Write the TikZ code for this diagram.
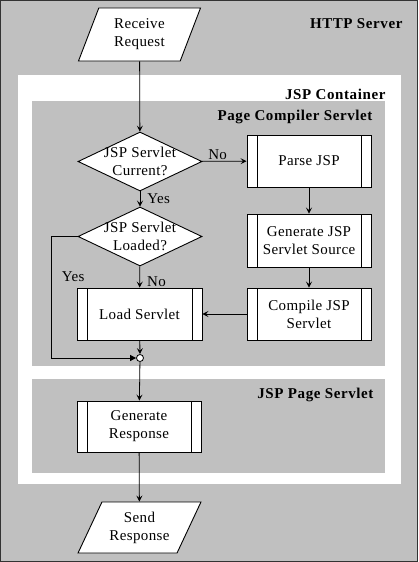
\documentclass[tikz,border=0pt]{standalone}
\usepackage{fontspec}
\setmainfont{Liberation Serif}
\usetikzlibrary{arrows.meta, positioning, shapes.geometric}
\definecolor{servergray}{HTML}{C0C0C0}
\begin{document}
\begin{tikzpicture}[
    x=1pt, y=-1pt,
    every node/.style={font=\fontsize{15}{18}\selectfont\addfontfeatures{LetterSpace=2.5}},
    proc/.style={rectangle, draw, fill=white, line width=0.9pt, align=center, minimum width=124pt, minimum height=52pt, inner sep=2pt,
        path picture={\draw[line width=0.9pt] ([xshift=10pt]path picture bounding box.north west) -- ([xshift=10pt]path picture bounding box.south west)
            ([xshift=-10pt]path picture bounding box.north east) -- ([xshift=-10pt]path picture bounding box.south east);}},
    decision/.style={diamond, draw, fill=white, line width=0.9pt, align=center, aspect=2.1, inner sep=-6pt, minimum width=124pt, minimum height=59pt},
    io/.style={trapezium, draw, fill=white, line width=0.9pt, align=center, trapezium stretches=true, minimum width=123pt, inner sep=1pt},
    title/.style={anchor=east, font=\fontsize{15}{18}\selectfont\bfseries\addfontfeatures{LetterSpace=4}},
    arrow/.style={-{Stealth[length=6pt, width=6pt, inset=2.5pt]}, line width=0.8pt},
    lbl/.style={inner sep=1pt}
]
\useasboundingbox (0,0) rectangle (418,562);
% containers
\filldraw[fill=servergray, draw=black!80, line width=1pt] (0.5,0.5) rectangle (417.5,561.5);
\fill[white] (18,75) rectangle (401,484);
\fill[servergray] (32,101) rectangle (385,366);
\fill[servergray] (32,379) rectangle (385,473);
\node[title] at (406,24) {HTTP Server};
\node[title] at (389,94) {JSP Container};
\node[title] at (376,117) {Page Compiler Servlet};
\node[title] at (377,395) {JSP Page Servlet};
% flow
\node[io, trapezium left angle=68.4, trapezium right angle=111.6, minimum height=53pt] (recv) at (139.5,34.5) {Receive\\Request};
\node[decision] (current) at (140,161.5) {JSP Servlet\\Current?};
\node[decision] (loaded) at (140,236.5) {JSP Servlet\\Loaded?};
\node[proc] (parse) at (309,161) {Parse JSP};
\node[proc, minimum height=53pt] (gensrc) at (309,240.5) {Generate JSP\\Servlet Source};
\node[proc] (compile) at (309,314) {Compile JSP\\Servlet};
\node[proc, minimum width=125pt] (load) at (139.5,314) {Load Servlet};
\node[circle, draw, fill=white, line width=0.8pt, inner sep=0pt, minimum size=7pt] (join) at (140,358) {};
\node[proc, minimum height=51pt] (respond) at (139,426.5) {Generate\\Response};
\node[io, trapezium left angle=59.5, trapezium right angle=120.5, minimum height=51pt] (send) at (139.5,527.5) {Send\\Response};
\draw[arrow] (recv) -- (current);
\draw[arrow] (current) -- node[lbl, pos=0.35, above] {No} (parse);
\draw[arrow] (current) -- node[lbl, right=6pt] {Yes} (loaded);
\draw[arrow] (parse) -- (gensrc);
\draw[arrow] (gensrc) -- (compile);
\draw[arrow] (compile) -- (load);
\draw[arrow] (loaded) -- node[lbl, pos=0.7, right=6pt] {No} (load);
\draw[-{Triangle[length=6pt, width=6pt]}, line width=0.8pt] (loaded.west) -- ++(-26,0) node[lbl, below right=34pt and 9pt] {Yes} |- (join.west);
\draw[arrow] (load) -- (join);
\draw[arrow] (join) -- (respond);
\draw[arrow] (respond) -- (send);
\end{tikzpicture}
\end{document}
